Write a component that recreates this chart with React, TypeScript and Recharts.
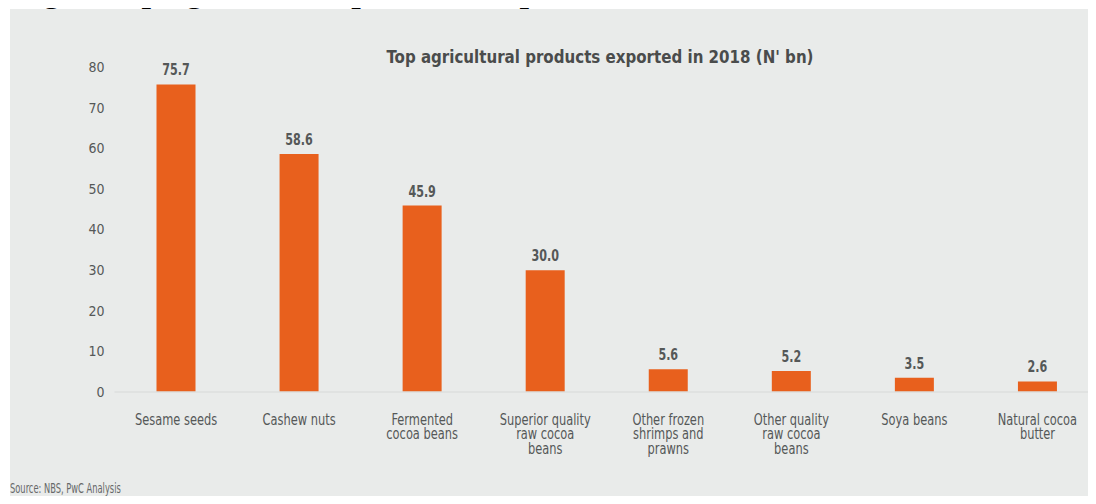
import React from 'react';
import { BarChart, Bar, XAxis, YAxis, LabelList } from 'recharts';

const products = [
  'Sesame seeds',
  'Cashew nuts',
  'Fermented\ncocoa beans',
  'Superior quality\nraw cocoa\nbeans',
  'Other frozen\nshrimps and\nprawns',
  'Other quality\nraw cocoa\nbeans',
  'Soya beans',
  'Natural cocoa\nbutter',
];
const exportValues = [75.7, 58.6, 45.9, 30.0, 5.6, 5.2, 3.5, 2.6];
const yTicks = [0, 10, 20, 30, 40, 50, 60, 70, 80];

const heading = 'Fig 3: Top agricultural products exported in 2018';
const chartTitle = "Top agricultural products exported in 2018 (N' bn)";
const source = 'Source: NBS, PwC Analysis';

const data = products.map((name, i) => ({ name, value: exportValues[i] }));

// no real condensed face is installed, so squeeze DejaVu Sans Condensed a bit
const narrow = "'DejaVu Sans Condensed', 'Liberation Sans Narrow', sans-serif";
const textGrey = '#555858';

const CategoryTick = (props: any) => {
  const { x, y, payload } = props;
  const lines = String(payload.value).split('\n');
  return (
    <g transform={`translate(${x},${y}) scale(0.82,1)`}>
      <text textAnchor="middle" fill={textGrey} fontFamily={narrow} fontSize={15.5}>
        {lines.map((line, i) => (
          <tspan key={i} x={0} y={33 + i * 14.3}>
            {line}
          </tspan>
        ))}
      </text>
    </g>
  );
};

const ValueLabel = (props: any) => {
  const { x, y, width, value } = props;
  const cx = Number(x) + Number(width) / 2;
  return (
    <g transform={`translate(${cx},${Number(y) - 9}) scale(0.8,1)`}>
      <text
        textAnchor="middle"
        fill={textGrey}
        fontFamily={narrow}
        fontWeight="bold"
        fontSize={15.5}
      >
        {Number(value).toFixed(1)}
      </text>
    </g>
  );
};

export default function App() {
  return (
    <div
      style={{
        position: 'relative',
        margin: -8,
        width: 1096,
        height: 504,
        overflow: 'hidden',
        background: '#ffffff',
      }}
    >
      <svg width={1096} height={12} style={{ position: 'absolute', left: 0, top: 0, zIndex: 2 }}>
        <text
          x={13}
          y={1.5}
          fontFamily="'Liberation Serif', 'Times New Roman', serif"
          fontWeight="bold"
          fontSize={34}
          fill="#000"
        >
          {heading}
        </text>
      </svg>
      <div
        style={{
          position: 'absolute',
          left: 10,
          top: 9,
          width: 1086,
          height: 495,
          background: '#e9ebea',
        }}
      >
        <div
          style={{
            position: 'absolute',
            left: 0,
            top: 36,
            width: 1180,
            textAlign: 'center',
            fontFamily: narrow,
            fontWeight: 'bold',
            fontSize: 18,
            color: '#4a4c4c',
            lineHeight: '24px',
            transform: 'scaleX(0.93)',
          }}
        >
          {chartTitle}
        </div>
        <BarChart
          width={1090}
          height={495}
          data={data}
          margin={{ top: 58, right: 1, left: 0, bottom: 0 }}
          barSize={39}
        >
          <XAxis
            dataKey="name"
            height={112}
            interval={0}
            tickLine={false}
            tickSize={0}
            tickMargin={0}
            axisLine={{ stroke: '#dcdfde', strokeWidth: 1.5 }}
            tick={<CategoryTick />}
          />
          <YAxis
            width={104.5}
            domain={[0, 80]}
            ticks={yTicks}
            interval={0}
            axisLine={false}
            tickLine={false}
            tickSize={0}
            tickMargin={10}
            tick={{ fill: textGrey, fontFamily: narrow, fontSize: 14 }}
          />
          <Bar dataKey="value" fill="#e8601d" isAnimationActive={false}>
            <LabelList dataKey="value" content={<ValueLabel />} />
          </Bar>
        </BarChart>
        <div
          style={{
            position: 'absolute',
            left: 0,
            top: 470,
            fontFamily: narrow,
            fontSize: 14,
            color: '#666868',
            lineHeight: '18px',
            transform: 'scaleX(0.66)',
            transformOrigin: 'left center',
            whiteSpace: 'nowrap',
          }}
        >
          {source}
        </div>
      </div>
    </div>
  );
}
